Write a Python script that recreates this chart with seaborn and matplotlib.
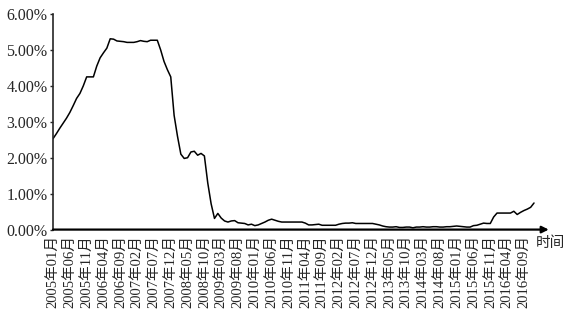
import matplotlib
matplotlib.use("Agg")
import matplotlib.pyplot as plt
import seaborn as sns
import pandas as pd
from matplotlib.ticker import PercentFormatter

# Monthly rate (%) from 2005-01 to 2016-12
rate = [
    2.53, 2.67, 2.82, 2.96, 3.10, 3.26, 3.45, 3.65, 3.79, 4.00, 4.25, 4.25,
    4.25, 4.55, 4.78, 4.92, 5.05, 5.31, 5.30, 5.25, 5.24, 5.23, 5.21, 5.21,
    5.21, 5.23, 5.26, 5.24, 5.23, 5.27, 5.27, 5.27, 5.00, 4.68, 4.45, 4.25,
    3.18, 2.60, 2.10, 1.98, 2.00, 2.16, 2.18, 2.07, 2.12, 2.05, 1.30, 0.72,
    0.31, 0.45, 0.32, 0.24, 0.21, 0.24, 0.25, 0.19, 0.18, 0.17, 0.13, 0.15,
    0.11, 0.13, 0.17, 0.21, 0.26, 0.29, 0.26, 0.23, 0.21, 0.21, 0.21, 0.21,
    0.21, 0.21, 0.21, 0.18, 0.13, 0.13, 0.14, 0.15, 0.12, 0.12, 0.12, 0.12,
    0.12, 0.15, 0.17, 0.18, 0.18, 0.19, 0.17, 0.17, 0.17, 0.17, 0.17, 0.17,
    0.15, 0.13, 0.10, 0.08, 0.07, 0.07, 0.08, 0.06, 0.06, 0.07, 0.07, 0.05,
    0.07, 0.07, 0.08, 0.07, 0.07, 0.08, 0.08, 0.07, 0.07, 0.08, 0.08, 0.09,
    0.10, 0.09, 0.08, 0.07, 0.07, 0.11, 0.12, 0.15, 0.18, 0.17, 0.17, 0.35,
    0.46, 0.46, 0.46, 0.46, 0.46, 0.51, 0.42, 0.48, 0.53, 0.57, 0.62, 0.74,
]
months = pd.date_range("2005-01-01", periods=len(rate), freq="MS")
month_labels = [f"{d.year}年{d.month:02d}月" for d in months]
tick_step = 5
y_ticks = [0, 1, 2, 3, 4, 5, 6]
x_axis_label = "时间"

df = pd.DataFrame({"idx": range(len(rate)), "rate": rate})

sns.set_style("ticks")
fam = ["Liberation Serif", "Noto Sans CJK SC", "DejaVu Sans"]
plt.rcParams["font.family"] = fam

fig = plt.figure(figsize=(5.77, 3.22), dpi=100)
ax = fig.add_axes([0.0919, 0.287, 0.854, 0.6695])

sns.lineplot(data=df, x="idx", y="rate", ax=ax, color="black", linewidth=1.1)

ax.set_xlim(0, 146.5)
ax.set_ylim(0, 6)
ax.set_yticks(y_ticks)
ax.yaxis.set_major_formatter(PercentFormatter(decimals=2))
ticks = list(range(0, len(rate), tick_step))
ax.set_xticks(ticks)
ax.set_xticklabels([month_labels[i] for i in ticks], rotation=90, fontsize=10.5)
ax.tick_params(axis="x", length=0, pad=4)
ax.tick_params(axis="y", length=2, width=1, labelsize=11.5, pad=2, direction="out")
for lbl in ax.get_yticklabels() + ax.get_xticklabels():
    lbl.set_family(fam)

ax.set_xlabel("")
ax.set_ylabel("")
for s in ["top", "right", "bottom"]:
    ax.spines[s].set_visible(False)
ax.spines["left"].set_linewidth(1.2)

# x axis drawn as an arrow
ax.annotate("", xy=(1.006, 0), xycoords="axes fraction",
            xytext=(0, 0), textcoords="axes fraction",
            arrowprops=dict(arrowstyle="-|>", color="black", lw=1.6,
                            mutation_scale=10, shrinkA=0, shrinkB=0))
ax.text(0.98, -0.065, x_axis_label, transform=ax.transAxes, ha="left",
        va="center", fontsize=10.5, family=fam)

fig.savefig("out.png", dpi=100)
